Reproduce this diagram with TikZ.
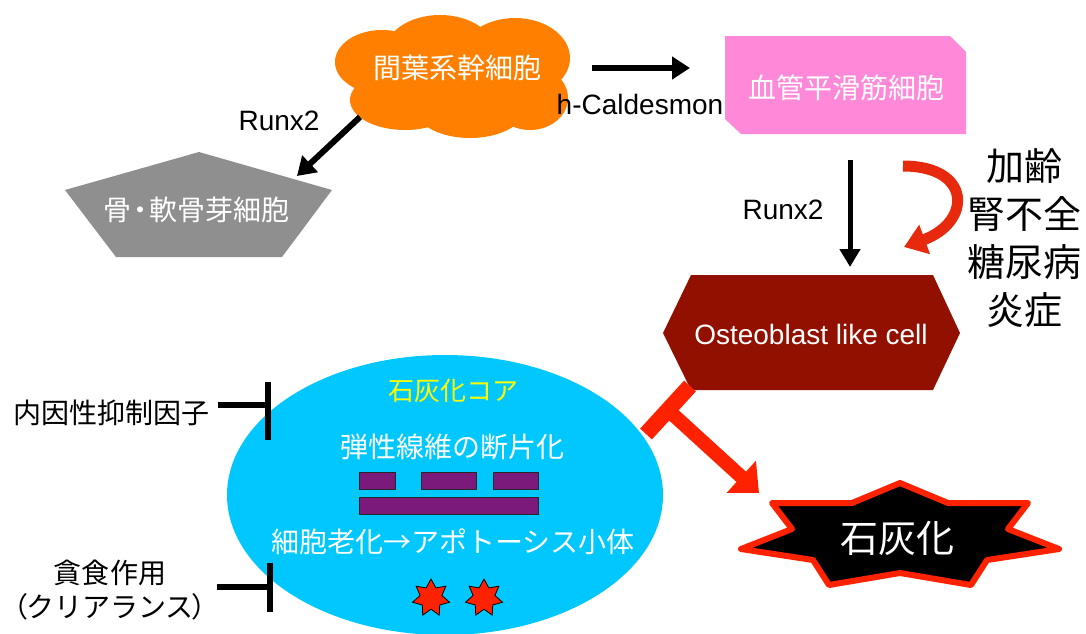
\documentclass[tikz,border=0pt]{standalone}
\usepackage{fontspec}
\setmainfont{Liberation Sans}
\newfontfamily\jp{Noto Sans CJK JP}
\usetikzlibrary{arrows.meta,shapes.geometric}
\definecolor{cOrange}{HTML}{FF8000}
\definecolor{cPink}{HTML}{FF88D8}
\definecolor{cGray}{HTML}{8F8F8F}
\definecolor{cDark}{HTML}{921000}
\definecolor{cCyan}{HTML}{00C8FF}
\definecolor{cPurple}{HTML}{7B1A7B}
\definecolor{cRed}{HTML}{FF2200}
\definecolor{cYellow}{HTML}{FFFF00}
\begin{document}
\begin{tikzpicture}[x=1pt,y=-1pt,
  lbl/.style={inner sep=0pt, font=\fontsize{28}{30}\selectfont},
  jlbl/.style={inner sep=0pt, font=\jp\fontsize{28}{30}\selectfont},
  bigj/.style={inner sep=0pt, font=\jp\fontsize{38}{48}\selectfont, align=center},
  blkarrow/.style={line width=6pt, -{Triangle[length=18pt,width=22pt]}},
  tbar/.style={line width=6pt},
  fragbar/.style={fill=cPurple, draw=black!85, line width=1pt},
  redstar/.style={star, star points=7, star point ratio=1.7, minimum size=38pt, inner sep=0pt, fill=cRed, draw=black, line width=0.8pt}
  ]
\useasboundingbox (0,0) rectangle (1086,633);

% --- cloud (mesenchymal stem cell)
\fill[cOrange] (382,62) ellipse [x radius=47, y radius=32];
\fill[cOrange] (440,52) ellipse [x radius=55, y radius=37];
\fill[cOrange] (515,58) ellipse [x radius=55, y radius=40];
\fill[cOrange] (405,100) ellipse [x radius=55, y radius=30];
\fill[cOrange] (470,108) ellipse [x radius=55, y radius=30];
\fill[cOrange] (530,98) ellipse [x radius=38, y radius=32];
\node[jlbl, text=white] (msc) at (457,68) {間葉系幹細胞};

% --- pink box
\fill[cPink] (725,36) -- (950,36) -- (966,52) -- (966,134) -- (741,134) -- (725,119) -- cycle;
\node[jlbl, text=white] (vsmc) at (846,88) {血管平滑筋細胞};

% --- gray pentagon
\fill[cGray] (199,152) -- (332,190) -- (282,257) -- (116,257) -- (65,190) -- cycle;
\node[jlbl, text=white] (bone) at (196,210) {骨\kern-5pt・\kern-5pt軟骨芽細胞};

% --- dark red hexagon
\fill[cDark] (663,333) -- (691,275) -- (933,275) -- (960,333) -- (933,390) -- (691,390) -- cycle;
\node[lbl, text=white] (obl) at (811,334) {Osteoblast like cell};

% --- cyan ellipse
\fill[cCyan] (445,495) ellipse [x radius=218, y radius=140];
\node[jlbl, font=\jp\fontsize{26}{28}\selectfont, text=cYellow] (core) at (453,391) {石灰化コア};
\node[jlbl, text=white] (frag) at (452,447) {弾性線維の断片化};
\node[jlbl, text=white] (apo) at (453,542) {細胞老化→アポトーシス小体};
\filldraw[fragbar] (359,472) rectangle (395,489);
\filldraw[fragbar] (421,472) rectangle (476,489);
\filldraw[fragbar] (493,472) rectangle (538,489);
\filldraw[fragbar] (359,497) rectangle (538,514);
\node[redstar] (st1) at (431,598) {};
\node[redstar] (st2) at (484,598) {};

% --- calcification star
\filldraw[fill=black, draw=cRed, line width=6pt, line join=round]
  (772,503) -- (852,503) -- (900,483) -- (948,503) -- (1028,503) -- (1008,529)
  -- (1059,549) -- (987,560) -- (971,585) -- (900,573) -- (829,585) -- (813,560)
  -- (741,549) -- (792,529) -- cycle;
\node[inner sep=0pt, font=\jp\fontsize{38}{40}\selectfont, text=white] (calc) at (897,538) {石灰化};

% --- labels
\node[lbl] (hcal) at (640,104) {h-Caldesmon};
\node[lbl] (runxA) at (279,121) {Runx2};
\node[lbl] (runxB) at (783,210) {Runx2};
\node[bigj] (risk) at (1024,238) {加齢\\腎不全\\糖尿病\\炎症};
\node[jlbl] (inh) at (111,413) {内因性抑制因子};
\node[jlbl, align=center, font=\jp\fontsize{28}{34}\selectfont] (phago) at (110,590) {貪食作用\\（\kern-2pt クリアランス\kern-2pt）};

% --- connectors
\coordinate (a1s) at (592,68);
\coordinate (a1e) at (690,68);
\draw[blkarrow] (a1s) -- (a1e);
\coordinate (a2s) at (360,117);
\coordinate (a2e) at (297,176);
\draw[blkarrow] (a2s) -- (a2e);
\coordinate (a3s) at (850,160);
\coordinate (a3e) at (850,267);
\draw[line width=5pt, -{Triangle[length=18pt,width=20pt]}] (a3s) -- (a3e);

% red curved arrow
\coordinate (cs) at (903,166);
\coordinate (ce) at (904,247);
\draw[cRed!90!black!95, line width=11pt, -{Triangle[length=22pt,width=30pt]}]
  (cs) .. controls (972,166) and (972,222) .. (ce);

% red inhibit + arrow
\coordinate (tb) at (668,410);
\coordinate (tb1) at (646,434);
\coordinate (tb2) at (690,386);
\draw[cRed, line width=16pt] (tb1) -- (tb2);
\coordinate (te) at (759,493);
\draw[cRed, line width=14pt, -{Triangle[length=24pt,width=42pt]}] (tb) -- (te);

% black inhibition bars
\coordinate (i1s) at (218,405);
\coordinate (i1e) at (268,405);
\draw[tbar] (i1s) -- (i1e);
\draw[tbar] (268,382) -- (268,440);
\coordinate (i2s) at (217,587);
\coordinate (i2e) at (270,587);
\draw[tbar] (i2s) -- (i2e);
\draw[tbar] (270,563) -- (270,612);
\end{tikzpicture}
\end{document}
